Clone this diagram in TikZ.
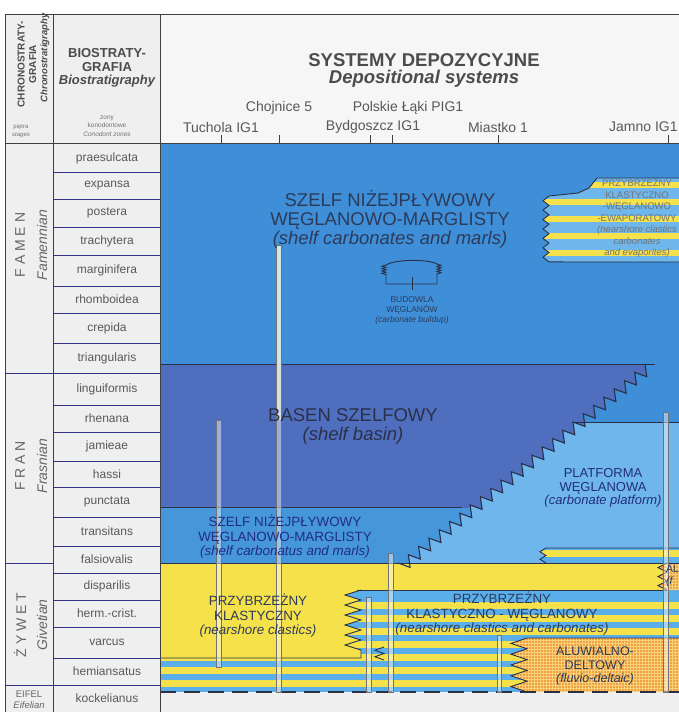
\documentclass[tikz,border=0pt]{standalone}
\usepackage{fontspec}
\setmainfont{Liberation Sans}
\usetikzlibrary{patterns}
\definecolor{shelf}{HTML}{3E8FD8}
\definecolor{shelflow}{HTML}{4696DC}
\definecolor{basin}{HTML}{506EBE}
\definecolor{plat}{HTML}{6EB6EC}
\definecolor{sblue}{HTML}{5AAFEB}
\definecolor{ylw}{HTML}{F5E14A}
\definecolor{orng}{HTML}{EFA040}
\definecolor{orngl}{HTML}{F8D27A}
\definecolor{cell}{HTML}{EFEFEF}
\definecolor{hdr}{HTML}{F6F6F6}
\definecolor{maptxt}{HTML}{2D3A5A}
\definecolor{edge}{HTML}{2A3048}
\begin{document}
\begin{tikzpicture}[x=1pt,y=-1pt,
  zone/.style={font=\fontsize{12}{13}\selectfont,text=black!65,inner sep=0},
  stagecap/.style={font=\fontsize{14}{15}\selectfont,text=black!60,rotate=90,inner sep=0},
  stageit/.style={font=\fontsize{14}{15}\selectfont\itshape,text=black!60,rotate=90,inner sep=0},
  wellname/.style={font=\fontsize{14}{15}\selectfont,text=black!65,inner sep=0},
  bigtxt/.style={font=\fontsize{18.5}{19}\selectfont,text=maptxt,align=center,inner sep=0},
  midtxt/.style={font=\fontsize{13.4}{14.5}\selectfont,text=maptxt,align=center,inner sep=0},
  smalltxt/.style={font=\fontsize{8.5}{10}\selectfont,text=maptxt,align=center,inner sep=0},
  evtxt/.style={font=\fontsize{9.5}{11.5}\selectfont,text=black!55,align=center,inner sep=0},
  frameln/.style={draw=black!75,line width=1pt},
  zoneln/.style={draw=black!60!blue!80,line width=0.8pt},
  bnd/.style={draw=edge,line width=0.9pt},
  wellbar/.style={fill=white,fill opacity=0.45,draw=black!55,line width=0.45pt},
  tick/.style={draw=black!75,line width=0.8pt}]
\useasboundingbox (0,0) rectangle (679,712);
\clip (0,0) rectangle (679,712);
\fill[white] (0,0) rectangle (679,712);
\fill[cell] (5,14) rectangle (160,712);
\fill[hdr] (160,14) rectangle (679,143);

% ---------- main area fills ----------
\fill[shelf] (160,143) rectangle (679,563);
\fill[shelflow] (160,507) rectangle (470,563);
% basin
\begin{scope}
  \clip (160,364) rectangle (679,507);
  \fill[basin] (160,364) -- (645,364) \foreach \k in {1,...,24}{ -- ++(1.76,12.72) -- ++(-12.05,-4.43)} -- (160,563) -- cycle;
\end{scope}
% platform
\begin{scope}
  \clip (160,422) rectangle (679,563);
  \fill[plat] (645,364) \foreach \k in {1,...,24}{ -- ++(1.76,12.72) -- ++(-12.05,-4.43)} -- (679,563) -- (679,364) -- cycle;
\end{scope}
% evaporite block (upper right)
\begin{scope}
  \clip (679,178) -- (597,178) -- (593,183) -- (589,188) -- (578,193) -- (549,196)
     \foreach \k in {1,...,7}{ -- ++(-6,4.71) -- ++(6,4.71)} -- (679,262) -- cycle;
  \fill[plat] (530,170) rectangle (679,270);
  \foreach \y in {182,199,216,233,250} \fill[ylw] (530,\y) rectangle (679,{\y+6});
\end{scope}
\draw[bnd] (679,178) -- (597,178) -- (593,183) -- (589,188) -- (578,193) -- (549,196)
     \foreach \k in {1,...,7}{ -- ++(-6,4.71) -- ++(6,4.71)} -- (679,262);
% platform bottom stripes
\begin{scope}
  \clip (679,548) -- (546,548) \foreach \k in {1,2}{ -- ++(-6,3.75) -- ++(6,3.75)} -- (679,563) -- cycle;
  \fill[sblue] (530,545) rectangle (679,565);
  \fill[ylw] (530,550) rectangle (679,557);
\end{scope}
\draw[bnd] (679,548) -- (546,548) \foreach \k in {1,2}{ -- ++(-6,3.75) -- ++(6,3.75)};
% yellow band
\fill[ylw] (160,563) rectangle (679,590);
% stripes region
\fill[sblue] (160,590) rectangle (679,692);
\foreach \y in {602,615,628,641,654,667,680} \fill[ylw] (160,\y) rectangle (679,{\y+6.5});
% nearshore clastic block
\fill[ylw] (160,590) -- (361,590) \foreach \k in {1,...,6}{ -- ++(-16,5) -- ++(16,5)} -- (361,658) -- (160,658) -- cycle;
% orange fluvio-deltaic block
\fill[orng] (679,638) -- (527,638) \foreach \k in {1,...,5}{ -- ++(-16,5.4) -- ++(16,5.4)} -- (679,692) -- cycle;
\fill[pattern=grid,pattern color=orngl] (679,638) -- (527,638) \foreach \k in {1,...,5}{ -- ++(-16,5.4) -- ++(16,5.4)} -- (679,692) -- cycle;
% right fluvio-deltaic block
\fill[orng] (679,563) -- (667,563) \foreach \k in {1,2,3}{ -- ++(-9,4.5) -- ++(9,4.5)} -- (667,590) -- (679,590) -- cycle;
\fill[pattern=grid,pattern color=orngl] (679,563) -- (667,563) \foreach \k in {1,2,3}{ -- ++(-9,4.5) -- ++(9,4.5)} -- (667,590) -- (679,590) -- cycle;
% bottom (kockelianus) area
\fill[cell] (160,692) rectangle (679,712);

% ---------- boundaries ----------
\draw[bnd] (160,364) -- (655,364);
\draw[bnd] (160,507) -- (462,507);
\draw[bnd] (573,422) -- (679,422);
\draw[bnd,line width=1.1pt,line join=miter] (645,364) \foreach \k in {1,...,24}{ -- ++(1.76,12.72) -- ++(-12.05,-4.43)};
\draw[bnd] (160,563) -- (679,563);
\draw[bnd] (357,590) -- (667,590);
\draw[bnd] (361,590) \foreach \k in {1,...,6}{ -- ++(-16,5) -- ++(16,5)} -- (361,658) -- (160,658);
\draw[bnd] (679,638) -- (527,638) \foreach \k in {1,...,5}{ -- ++(-16,5.4) -- ++(16,5.4)};
\draw[bnd] (667,563) \foreach \k in {1,2,3}{ -- ++(-9,4.5) -- ++(9,4.5)};
\draw[bnd] (384,647) \foreach \k in {1,2}{ -- ++(-9,3.25) -- ++(9,3.25)};
\draw[bnd,dash pattern=on 16pt off 8pt,line width=1.2pt] (160,692) -- (679,692);

% carbonate buildup symbol
\draw[edge,line width=0.9pt] (386,265) .. controls (396,259) and (428,259) .. (437,264);
\draw[edge,line width=0.9pt] (386,265) \foreach \k in {1,...,4}{ -- ++(-4,1.2) -- ++(4,1.2)} -- (386,284) -- (437,284);
\draw[edge,line width=0.9pt] (437,264) \foreach \k in {1,...,4}{ -- ++(4,1.25) -- ++(-4,1.25)} -- (437,284);
\draw[edge,line width=0.8pt] (412,277) -- (412,290);

% ---------- well bars ----------
\fill[fill=green!25!gray!30,fill opacity=0.8] (276,245) rectangle (281,420);
\draw[wellbar] (276,245) rectangle (281,692);
\draw[wellbar] (216,420) rectangle (221,667);
\draw[wellbar] (366,597) rectangle (371,692);
\draw[wellbar] (388,553) rectangle (393,692);
\draw[wellbar] (497,635) rectangle (501,692);
\draw[wellbar] (663,412) rectangle (668,692);

% ---------- map texts ----------
\node[bigtxt] (t1) at (390,219) {SZELF NIŻEJPŁYWOWY\\WĘGLANOWO-MARGLISTY\\\itshape (shelf carbonates and marls)};
\node[smalltxt] (t2) at (412,310) {BUDOWLA\\WĘGLANÓW\\\itshape (carbonate buildup)};
\node[evtxt] (t3) at (637,218) {PRZYBRZEŻNY\\KLASTYCZNO\\-WĘGLANOWO\\-EWAPORATOWY\\\itshape (nearshore clastics\\\itshape carbonates\\\itshape and evaporites)};
\node[bigtxt,text=edge] (t4) at (353,426) {BASEN SZELFOWY\\\itshape (shelf basin)};
\node[midtxt,text=maptxt!80!blue,font=\fontsize{13}{13.5}\selectfont] (t5) at (603,488) {PLATFORMA\\WĘGLANOWA\\\itshape (carbonate platform)};
\node[midtxt,text=maptxt!75!blue] (t6) at (285,537) {SZELF NIŻEJPŁYWOWY\\WĘGLANOWO-MARGLISTY\\\itshape (shelf carbonatus and marls)};
\node[midtxt] (t7) at (258,616) {PRZYBRZEŻNY\\KLASTYCZNY\\\itshape (nearshore clastics)};
\node[midtxt] (t8) at (502,614) {PRZYBRZEŻNY\\KLASTYCZNO - WĘGLANOWY\\\itshape (nearshore clastics and carbonates)};
\node[midtxt,font=\fontsize{12.5}{13.5}\selectfont] (t9) at (595,666) {ALUWIALNO-\\DELTOWY\\\itshape (fluvio-deltaic)};
\node[midtxt,font=\fontsize{10.5}{12.5}\selectfont,align=left,anchor=west] (t10) at (666,576) {AL\\\itshape (f};

% ---------- header ----------
\node[font=\bfseries\fontsize{18.5}{20}\selectfont,text=black!70,inner sep=0] (h1) at (424,60) {SYSTEMY DEPOZYCYJNE};
\node[font=\bfseries\itshape\fontsize{18.5}{20}\selectfont,text=black!70,inner sep=0] (h2) at (424,79) {Depositional systems};
\node[wellname] (w1) at (221,127) {Tuchola IG1};
\node[wellname] (w2) at (279,108) {Chojnice 5};
\node[wellname] (w3) at (408,108) {Polskie Łąki PIG1};
\node[wellname] (w4) at (373,127) {Bydgoszcz IG1};
\node[wellname] (w5) at (498,127) {Miastko 1};
\node[wellname,anchor=west] (w6) at (609,127) {Jamno IG1};
\foreach \x in {221,279,370,392,498,668} \draw[tick] (\x,135) -- (\x,143);

\node[font=\bfseries\fontsize{10}{11.5}\selectfont,text=black!70,rotate=90,align=center,inner sep=0] (c1) at (27,64) {CHRONOSTRATY-\\GRAFIA};
\node[font=\bfseries\itshape\fontsize{9.5}{11}\selectfont,text=black!70,rotate=90,inner sep=0] (c2) at (45,58) {Chronostratigraphy};
\node[font=\fontsize{6}{7.5}\selectfont,text=black!55,align=center,inner sep=0] (c3) at (21,131) {piętra\\\itshape stages};
\node[font=\bfseries\fontsize{13}{14.5}\selectfont,text=black!70,align=center,inner sep=0] (b1) at (107,60) {BIOSTRATY-\\GRAFIA};
\node[font=\bfseries\itshape\fontsize{13}{14}\selectfont,text=black!70,inner sep=0] (b2) at (107,81) {Biostratigraphy};
\node[font=\fontsize{6.5}{8.5}\selectfont,text=black!55,align=center,inner sep=0] (b3) at (107,126) {zony\\konodontowe\\\itshape Conodont zones};

% ---------- zones ----------
\foreach \a/\b/\n [count=\i] in {145/172/praesulcata,172/199/expansa,199/227/postera,227/255/trachytera,255/286/marginifera,286/313/rhomboidea,313/343/crepida,343/373/triangularis,373/405/linguiformis,405/432/rhenana,432/461/jamieae,461/487/hassi,487/517/punctata,517/546/transitans,546/573/falsiovalis,573/600/disparilis,600/627/herm.-crist.,627/658/varcus,658/685/hemiansatus,685/712/kockelianus}{
  \node[zone] (z\i) at (107,{(\a+\b)/2}) {\n};
  \draw[zoneln] (53,\b) -- (160,\b);
}
% stages
\node[stagecap] (s1) at (20,245) {F A M E N};
\node[stageit] (s2) at (42,245) {Famennian};
\node[stagecap] (s3) at (20,466) {F R A N};
\node[stageit] (s4) at (42,466) {Frasnian};
\node[stagecap] (s5) at (20,625) {Ż Y W E T};
\node[stageit] (s6) at (42,625) {Givetian};
\node[font=\fontsize{9.5}{11}\selectfont,text=black!60,align=center,inner sep=0] (s7) at (29,700) {EIFEL\\\itshape Eifelian};
\draw[zoneln] (5,373) -- (53,373);
\draw[zoneln] (5,563) -- (53,563);
\draw[zoneln] (5,685) -- (53,685);

% ---------- frame ----------
\draw[frameln] (5,712) -- (5,14) -- (679,14);
\draw[frameln] (5,143) -- (679,143);
\draw[frameln] (53,14) -- (53,712);
\draw[frameln] (160,14) -- (160,712);
\end{tikzpicture}
\end{document}
